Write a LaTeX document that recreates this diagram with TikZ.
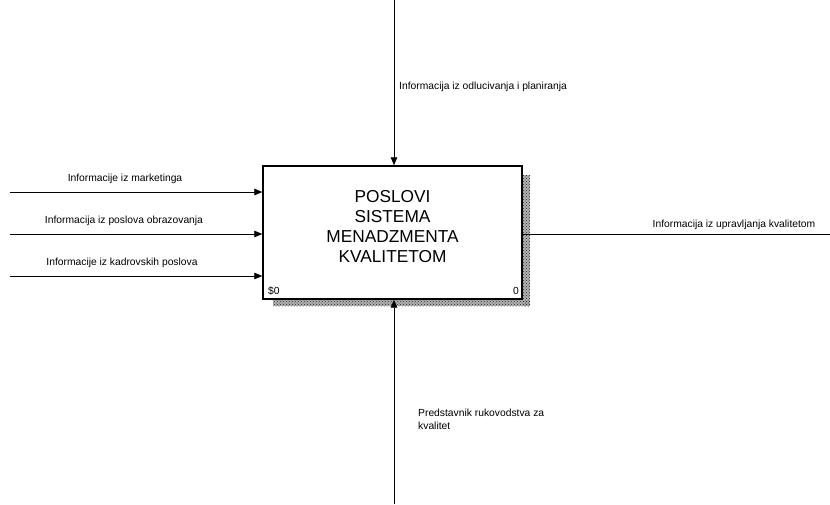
\documentclass[tikz,border=0pt]{standalone}
\usepackage{fontspec}
\setmainfont{Liberation Sans}
\usetikzlibrary{arrows.meta,patterns}
\begin{document}
\begin{tikzpicture}[x=1pt,y=-1pt,
  flow/.style={line width=0.8pt,-{Triangle[length=8pt,width=6.5pt]}},
  plain/.style={line width=0.8pt},
  lbl/.style={font=\fontsize{10.3}{12.5}\selectfont,inner sep=0pt},
  activity/.style={draw,line width=1.4pt,fill=white,minimum width=259pt,minimum height=133pt,inner sep=0pt},
  titletext/.style={align=center,inner sep=0pt,font=\fontsize{17.3}{20}\selectfont},
  shadowbase/.style={fill=black!30},
  shadowfill/.style={pattern=crosshatch dots,pattern color=black!85}]
\useasboundingbox (0,0) rectangle (830,504);
% drop shadow of the activity box
\fill[shadowbase] (523,175) rectangle (530,306);
\fill[shadowbase] (273,300) rectangle (530,306);
\fill[shadowfill] (523,175) rectangle (530,306);
\fill[shadowfill] (273,300) rectangle (530,306);
% activity box
\node[activity] (box) at (392.5,232.5) {};
\node[titletext] (title) at ([yshift=6pt]box.center) {POSLOVI\\SISTEMA\\MENADZMENTA\\KVALITETOM};
\node[lbl,anchor=south west] (num) at (268,295) {\$0};
\node[lbl,anchor=south east] (idx) at (519,295) {0};
% free ends of the connectors
\coordinate (c0) at (394,0);
\coordinate (m0) at (394,504);
\coordinate (i1) at (10,192);
\coordinate (i2) at (10,234);
\coordinate (i3) at (10,276);
\coordinate (o1) at (830,234);
% control
\draw[flow] (c0) -- (c0 |- box.north);
\node[lbl,anchor=west] (lc) at (399,87) {Informacija iz odlucivanja i planiranja};
% mechanism
\draw[flow] (m0) -- (m0 |- box.south);
\node[lbl,anchor=north west,align=left] (lm) at (418,409) {Predstavnik rukovodstva za\\kvalitet};
% inputs
\draw[flow] (i1) -- (i1 -| box.west);
\draw[flow] (i2) -- (i2 -| box.west);
\draw[flow] (i3) -- (i3 -| box.west);
\node[lbl] (l1) at (125,179) {Informacije iz marketinga};
\node[lbl] (l2) at (124,221) {Informacija iz poslova obrazovanja};
\node[lbl] (l3) at (122,263) {Informacije iz kadrovskih poslova};
% output
\draw[plain] (o1 -| box.east) -- (o1);
\node[lbl] (lo) at (734,225) {Informacija iz upravljanja kvalitetom};
\end{tikzpicture}
\end{document}
